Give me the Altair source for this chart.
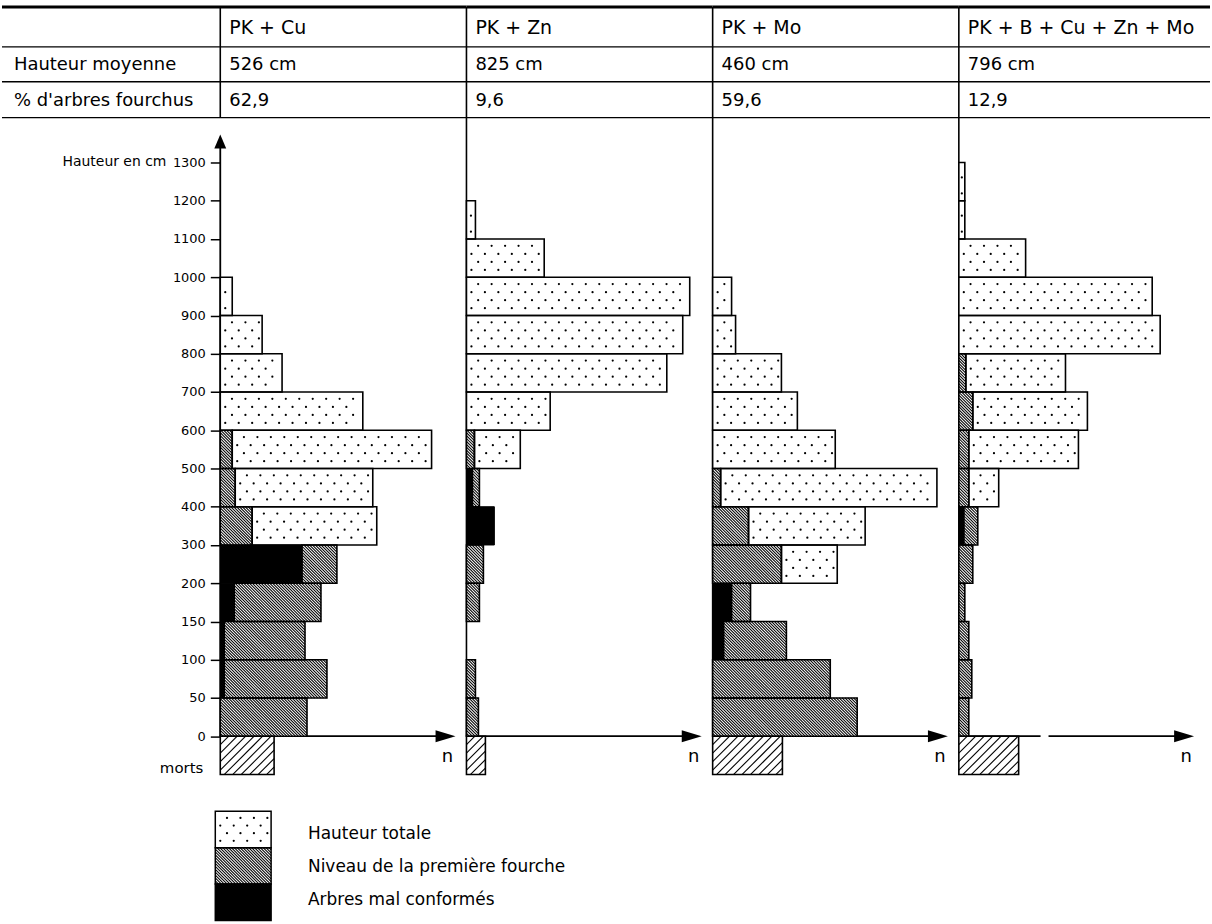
import math
import altair as alt
import pandas as pd

FONT = "DejaVu Sans"

# ---------------- data ----------------
bin_labels = ["0-50", "50-100", "100-150", "150-200", "200-300", "300-400", "400-500",
              "500-600", "600-700", "700-800", "800-900", "900-1000", "1000-1100",
              "1100-1200", "1200-1300"]
tick_labels = ["0", "50", "100", "150", "200", "300", "400", "500", "600", "700",
               "800", "900", "1000", "1100", "1200", "1300"]

treatments = ["PK + Cu", "PK + Zn", "PK + Mo", "PK + B + Cu + Zn + Mo"]
mean_height = ["526 cm", "825 cm", "460 cm", "796 cm"]
pct_forked = ["62,9", "9,6", "59,6", "12,9"]
row_labels = ["Hauteur moyenne", "% d'arbres fourchus"]
legend_labels = ["Hauteur totale", "Niveau de la première fourche", "Arbres mal conformés"]

# n per height class, classes in bin_labels order
cu_bad = [0, 2, 2, 7, 41, 0, 0, 0, 0, 0, 0, 0, 0, 0, 0]
cu_fork = [43.5, 51.5, 40.5, 43.5, 17.5, 16, 7.5, 6, 0, 0, 0, 0, 0, 0, 0]
cu_total = [0, 0, 0, 0, 0, 62.5, 69, 100, 71.5, 31, 21, 6, 0, 0, 0]

zn_bad = [0, 0, 0, 0, 0, 14, 3, 0, 0, 0, 0, 0, 0, 0, 0]
zn_fork = [6, 4.5, 0, 6.5, 8.5, 0, 3.5, 4, 0, 0, 0, 0, 0, 0, 0]
zn_total = [0, 0, 0, 0, 0, 0, 0, 23, 42, 100.5, 108.5, 112, 39, 4.5, 0]

mo_bad = [0, 0, 5.5, 9.5, 0, 0, 0, 0, 0, 0, 0, 0, 0, 0, 0]
mo_fork = [72.5, 59, 31.5, 9.5, 34.5, 18, 4, 0, 0, 0, 0, 0, 0, 0, 0]
mo_total = [0, 0, 0, 0, 28, 58.5, 108.5, 61.5, 42.5, 34.5, 11.5, 9.5, 0, 0, 0]

all_bad = [0, 0, 0, 0, 0, 2.5, 0, 0, 0, 0, 0, 0, 0, 0, 0]
all_fork = [5, 6.5, 5, 3, 7, 7, 5, 5, 7, 3.5, 0, 0, 0, 0, 0]
all_total = [0, 0, 0, 0, 0, 0, 15, 55, 57.5, 50, 101, 97, 33.5, 3, 3]

dead = [27, 9.5, 35, 30]   # "morts"

series = [(cu_bad, cu_fork, cu_total), (zn_bad, zn_fork, zn_total),
          (mo_bad, mo_fork, mo_total), (all_bad, all_fork, all_total)]

# ---------------- layout constants ----------------
W, H = 247, 614
XMAX = 123.5
NB = len(bin_labels) + 1          # + "morts" row
SX = W / XMAX
SY = H / NB
Y0PX = H * (NB - 1) / NB          # pixel row of height 0

HATCH_GAP, HATCH_W = 2.9, 1.05
DOT_SIZE = 5


def make_rects(bad, fork, total, dead_v):
    rows = []
    for i in range(len(bin_labels)):
        x = 0.0
        for cat, v in (("bad", bad[i]), ("fork", fork[i]), ("total", total[i])):
            if v > 0:
                rows.append({"cls": bin_labels[i], "cat": cat, "lo": i, "hi": i + 1,
                             "x0": x, "x1": x + v})
                x += v
    rows.append({"cls": "morts", "cat": "dead", "lo": -1, "hi": 0, "x0": 0, "x1": dead_v})
    return pd.DataFrame(rows)


def hatch_lines(rects, sx, sy, gap, slope):
    out = []
    for _, r in rects.iterrows():
        X0, X1 = r["x0"] * sx, r["x1"] * sx
        Y0, Y1 = r["lo"] * sy, r["hi"] * sy
        if slope < 0:
            cmin, cmax = X0 + Y0, X1 + Y1
        else:
            cmin, cmax = X0 - Y1, X1 - Y0
        k = math.ceil(cmin / gap)
        while k * gap < cmax:
            c = k * gap
            if slope < 0:
                xs, xe = max(X0, c - Y1), min(X1, c - Y0)
                ys, ye = c - xs, c - xe
            else:
                xs, xe = max(X0, c + Y0), min(X1, c + Y1)
                ys, ye = xs - c, xe - c
            if xe - xs > 0.4:
                out.append({"x": xs / sx, "x2": xe / sx, "y": ys / sy, "y2": ye / sy})
            k += 1
    return pd.DataFrame(out, columns=["x", "x2", "y", "y2"])


def dot_grid(rects, sx, sy, dx=13.5, fr=(0.19, 0.4, 0.61, 0.82)):
    out = []
    for _, r in rects.iterrows():
        X0, X1 = r["x0"] * sx, r["x1"] * sx
        for k, f in enumerate(fr):
            y = r["lo"] + f * (r["hi"] - r["lo"])
            if X1 - X0 < 11:
                if k % 2 == 0:
                    out.append({"x": (X0 + X1) / 2 / sx, "y": y})
                continue
            x = X0 + 5 + (dx / 2 if k % 2 else 0)
            while x < X1 - 3:
                out.append({"x": x / sx, "y": y})
                x += dx
    return pd.DataFrame(out, columns=["x", "y"])


def vrule(x, y, x2=None, y2=None, sw=1.4):
    enc = {"x": alt.value(x), "y": alt.value(y)}
    if x2 is not None:
        enc["x2"] = alt.value(x2)
    if y2 is not None:
        enc["y2"] = alt.value(y2)
    return alt.Chart().mark_rule(color="black", strokeWidth=sw).encode(**enc)


def vtext(s, x, y, size=19, align="left"):
    return alt.Chart().mark_text(text=s, font=FONT, fontSize=size, align=align,
                                 baseline="middle", color="black").encode(
        x=alt.value(x), y=alt.value(y))


def arrow(x, y, shape, size):
    return alt.Chart().mark_point(shape=shape, filled=True, size=size, color="black",
                                  opacity=1, strokeWidth=0).encode(
        x=alt.value(x), y=alt.value(y))


label_expr = "[" + ",".join("'%s'" % t for t in tick_labels) + "][datum.value]"

TABLE_Y = [-156, -116, -81, -45]
ROW_Y = [-135, -98, -62]


def legend_layer():
    LW, LH = 300, 109.5
    LTOP = H + 37
    leg = pd.DataFrame({
        "label": legend_labels,
        "cat": ["total", "fork", "bad"],
        "lo": [2, 1, 0], "hi": [3, 2, 1],
        "x0": [-2.5] * 3, "x1": [25.5] * 3,
    })
    leg["ty"] = leg["lo"] + pd.Series([0.38, 0.47, 0.56])
    leg["tx"] = 44.0
    lsy = LH / 3
    lxs = alt.Scale(domain=[0, LW / SX], range=[0, LW], nice=False, zero=False)
    lys = alt.Scale(domain=[0, 3], range=[LTOP + LH, LTOP], nice=False, zero=False)

    def LX(f):
        return alt.X(f, type="quantitative", scale=lxs, axis=None)

    def LY(f):
        return alt.Y(f, type="quantitative", scale=lys, axis=None)

    lh = hatch_lines(leg[leg["cat"] == "fork"], SX, lsy, HATCH_GAP, -1)
    ld = dot_grid(leg[leg["cat"] == "total"], SX, lsy)
    return alt.layer(
        alt.Chart(lh).mark_rule(color="black", strokeWidth=HATCH_W).encode(
            x=LX("x"), x2="x2", y=LY("y"), y2="y2"),
        alt.Chart(ld).mark_point(shape="circle", filled=True, size=DOT_SIZE,
                                 color="black", opacity=1).encode(x=LX("x"), y=LY("y")),
        alt.Chart(leg[leg["cat"] != "bad"]).mark_rect(fillOpacity=0, stroke="black",
                                                      strokeWidth=1.5).encode(
            x=LX("x0"), x2="x1", y=LY("lo"), y2="hi"),
        alt.Chart(leg[leg["cat"] == "bad"]).mark_rect(fill="black", stroke="black",
                                                      strokeWidth=1.5).encode(
            x=LX("x0"), x2="x1", y=LY("lo"), y2="hi"),
        alt.Chart(leg).mark_text(font=FONT, fontSize=17, align="left",
                                 baseline="middle", color="black").encode(
            x=LX("tx"), y=LY("ty"), text="label:N"),
    )


def panel(i):
    bad, fork, total = series[i]
    rects = make_rects(bad, fork, total, dead[i])
    xs = alt.Scale(domain=[0, XMAX], nice=False, zero=False)
    ys = alt.Scale(domain=[-1, NB - 1], nice=False, zero=False)
    if i == 0:
        yax = alt.Axis(values=list(range(NB)), labelExpr=label_expr, title=None,
                       domain=False, ticks=True, tickSize=10, tickWidth=1.5,
                       tickColor="black", labelFont=FONT, labelFontSize=13,
                       labelColor="black", labelPadding=5, grid=False,
                       labelOverlap=False, labelFlush=False)
    else:
        yax = None

    def X(f):
        return alt.X(f, type="quantitative", scale=xs, axis=None)

    def Y(f):
        return alt.Y(f, type="quantitative", scale=ys, axis=yax)

    layers = []
    # table lines
    left = -219 if i == 0 else 0
    right = W + 5 if i == 3 else W
    for k, ty in enumerate(TABLE_Y):
        layers.append(vrule(left, ty, x2=right, sw=3 if k == 0 else 1.4))
    if i == 0:
        layers.append(vrule(0, TABLE_Y[0], y2=TABLE_Y[-1], sw=1.6))
        layers.append(vrule(0, -16, y2=Y0PX, sw=1.8))
        layers.append(arrow(0, -21, "M-0.85,1L0,-1L0.85,1Z", 196))
    else:
        layers.append(vrule(0, TABLE_Y[0], y2=Y0PX, sw=1.6))
    # horizontal axis with arrow
    if i == 3:
        layers.append(vrule(0, Y0PX, x2=82, sw=1.8))
        layers.append(vrule(90, Y0PX, x2=226, sw=1.8))
    else:
        layers.append(vrule(0, Y0PX, x2=226, sw=1.8))
    layers.append(arrow(226, Y0PX, "M-1,-0.6L1,0L-1,0.6Z", 400))
    layers.append(vtext("n", 228, Y0PX + 21, size=18, align="center"))

    light = rects[rects["cat"] != "bad"]
    layers.append(alt.Chart(light).mark_rect(fill="white", strokeWidth=0).encode(
        x=X("x0"), x2="x1", y=Y("lo"), y2="hi"))
    fh = hatch_lines(rects[rects["cat"] == "fork"], SX, SY, HATCH_GAP, -1)
    if len(fh):
        layers.append(alt.Chart(fh).mark_rule(color="black", strokeWidth=HATCH_W).encode(
            x=X("x"), x2="x2", y=Y("y"), y2="y2"))
    dh = hatch_lines(rects[rects["cat"] == "dead"], SX, SY, 8.5, 1)
    layers.append(alt.Chart(dh).mark_rule(color="black", strokeWidth=1.1).encode(
        x=X("x"), x2="x2", y=Y("y"), y2="y2"))
    dd = dot_grid(rects[rects["cat"] == "total"], SX, SY)
    layers.append(alt.Chart(dd).mark_point(shape="circle", filled=True, size=DOT_SIZE,
                                           color="black", opacity=1).encode(
        x=X("x"), y=Y("y")))
    layers.append(alt.Chart(light).mark_rect(fillOpacity=0, stroke="black",
                                             strokeWidth=1.6).encode(
        x=X("x0"), x2="x1", y=Y("lo"), y2="hi"))
    badr = rects[rects["cat"] == "bad"]
    if len(badr):
        layers.append(alt.Chart(badr).mark_rect(fill="black", stroke="black",
                                                strokeWidth=1).encode(
            x=X("x0"), x2="x1", y=Y("lo"), y2="hi"))

    # table texts
    layers.append(vtext(treatments[i], 9, ROW_Y[0], size=19))
    layers.append(vtext(mean_height[i], 9, ROW_Y[1], size=18))
    layers.append(vtext(pct_forked[i], 9, ROW_Y[2], size=18))
    if i == 0:
        layers.append(vtext(row_labels[0], -207, ROW_Y[1], size=18))
        layers.append(vtext(row_labels[1], -207, ROW_Y[2], size=18))
        layers.append(vtext("Hauteur en cm", -54, 0, size=14, align="right"))
        layers.append(vtext("morts", -17, Y0PX + 32, size=15, align="right"))
    main = alt.layer(*layers)
    if i == 0:
        return alt.layer(main, legend_layer()).resolve_scale(
            x="independent", y="independent").properties(width=W, height=H)
    return main.properties(width=W, height=H)


chart = alt.hconcat(*[panel(i) for i in range(4)], spacing=0, bounds="flush").properties(
    padding={"left": 0, "top": 3.5, "right": 0, "bottom": 0},
    background="white",
).configure_view(stroke=None)

chart.save("out.html", embed_options={"renderer": "svg", "actions": False})
